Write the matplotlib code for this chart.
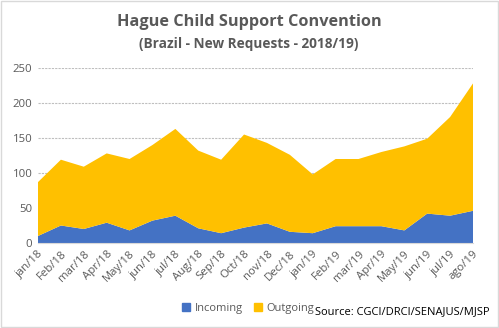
import matplotlib.pyplot as plt
import numpy as np
from matplotlib.patches import Rectangle, Patch

plt.rcParams['font.family'] = ['Open Sans', 'DejaVu Sans']

# data
months = ['jan/18', 'Feb/18', 'mar/18', 'Apr/18', 'May/18', 'jun/18', 'jul/18',
          'Aug/18', 'Sep/18', 'Oct/18', 'nov/18', 'Dec/18', 'jan/19', 'Feb/19',
          'mar/19', 'Apr/19', 'May/19', 'jun/19', 'jul/19', 'ago/19']
incoming = [10, 25, 20, 29, 18, 32, 39, 21, 14, 22, 28, 16, 14, 24, 24, 24, 18, 42, 39, 46]
total = [87, 119, 109, 128, 120, 140, 163, 132, 119, 155, 143, 126, 98, 120, 120, 130, 138, 149, 180, 228]
outgoing = [t - i for t, i in zip(total, incoming)]

W, H = 499, 328
fig = plt.figure(figsize=(W / 100, H / 100), dpi=100)
ax = fig.add_axes([38 / W, 1 - 243 / H, (473 - 38) / W, (243 - 68) / H])

x = np.arange(len(months))
ax.stackplot(x, incoming, outgoing, colors=['#4472C4', '#FFC000'],
             labels=['Incoming', 'Outgoing'], linewidth=0)

ax.set_xlim(0, len(months) - 1)
ax.set_ylim(0, 250)
ax.set_yticks(range(0, 251, 50))
ax.yaxis.grid(True, color='#BFBFBF', linewidth=0.8, linestyle=(0, (2, 1)))
ax.set_axisbelow(True)
for s in ['top', 'right', 'left']:
    ax.spines[s].set_visible(False)
ax.spines['bottom'].set_color('#D9D9D9')
ax.tick_params(length=0, labelsize=8.2, colors='#595959', pad=4)
ax.set_xticks(x)
ax.set_xticklabels(months, rotation=45, ha='right', rotation_mode='anchor')

fig.text(249 / W, 1 - 22 / H, 'Hague Child Support Convention', ha='center', va='center',
         fontsize=11.7, fontweight='bold', color='#595959')
fig.text(249 / W, 1 - 44 / H, '(Brazil - New Requests - 2018/19)', ha='center', va='center',
         fontsize=9.8, fontweight='bold', color='#595959')

handles = [Patch(color='#4472C4'), Patch(color='#FFC000')]
fig.legend(handles, ['Incoming', 'Outgoing'], loc='center', ncol=2,
           bbox_to_anchor=(248 / W, 1 - 308 / H), frameon=False, fontsize=8,
           handlelength=0.7, handleheight=0.7, handletextpad=0.4, columnspacing=1.0,
           labelcolor='#595959')
fig.text(490 / W, 1 - 312 / H, 'Source: CGCI/DRCI/SENAJUS/MJSP', ha='right', va='center',
         fontsize=8, color='black')

fig.add_artist(Rectangle((0.002, 0.003), 0.995, 0.993, transform=fig.transFigure,
                         fill=False, edgecolor='#D9D9D9', linewidth=1))

fig.savefig('out.png', dpi=100)
